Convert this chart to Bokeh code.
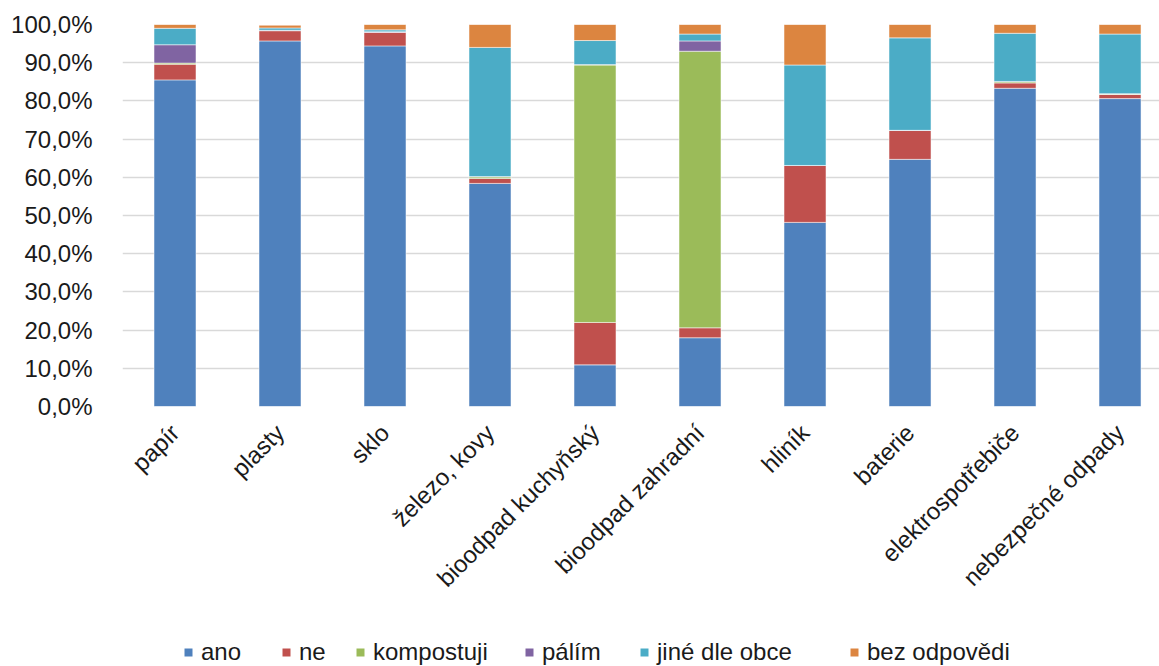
from bokeh.plotting import figure
from bokeh.models import ColumnDataSource, Legend, LegendItem, FixedTicker, Range1d
from bokeh.layouts import column
from bokeh.embed import file_html
from bokeh.resources import INLINE
import math

categories = ["papír", "plasty", "sklo", "železo, kovy", "bioodpad kuchyňský",
              "bioodpad zahradní", "hliník", "baterie", "elektrospotřebiče",
              "nebezpečné odpady"]
series = ["ano", "ne", "kompostuji", "pálím", "jiné dle obce", "bez odpovědi"]
ano        = [85.5, 95.7, 94.4, 58.4, 10.9, 18.0, 48.2, 64.7, 83.3, 80.6]
ne         = [4.1, 2.7, 3.6, 1.3, 11.1, 2.6, 14.9, 7.6, 1.4, 1.1]
kompostuji = [0.3, 0.0, 0.0, 0.4, 67.4, 72.4, 0.0, 0.0, 0.3, 0.1]
palim      = [4.8, 0.1, 0.1, 0.1, 0.1, 2.7, 0.0, 0.0, 0.1, 0.1]
jine       = [4.3, 0.6, 0.5, 33.8, 6.3, 1.8, 26.3, 24.2, 12.6, 15.6]
bez        = [1.0, 0.7, 1.4, 6.0, 4.2, 2.5, 10.6, 3.5, 2.3, 2.5]
y_ticks = [0, 10, 20, 30, 40, 50, 60, 70, 80, 90, 100]
y_tick_labels = ["0,0%", "10,0%", "20,0%", "30,0%", "40,0%", "50,0%",
                 "60,0%", "70,0%", "80,0%", "90,0%", "100,0%"]

colors = ["#4F81BD", "#C0504D", "#9BBB59", "#8064A2", "#4BACC6", "#DC8540"]
FONT = "Liberation Sans"

x = list(range(len(categories)))
source = ColumnDataSource(dict(x=x, ano=ano, ne=ne, kompostuji=kompostuji,
                               palim=palim, jine=jine, bez=bez))
keys = ["ano", "ne", "kompostuji", "palim", "jine", "bez"]

p = figure(width=1159, height=620, output_backend="svg", toolbar_location=None,
           x_range=Range1d(-0.5, 9.376), y_range=Range1d(0, 100),
           min_border_left=122, min_border_right=0, min_border_top=24,
           min_border_bottom=214)
p.outline_line_color = None

p.vbar_stack(keys, x="x", width=0.4, source=source, color=colors,
             line_color="white", line_alpha=0.5, line_width=1)

# axes
p.yaxis.ticker = FixedTicker(ticks=y_ticks)
p.yaxis.major_label_overrides = {t: l for t, l in zip(y_ticks, y_tick_labels)}
p.xaxis.ticker = FixedTicker(ticks=x)
p.xaxis.major_label_overrides = {i: c for i, c in zip(x, categories)}
p.xaxis.major_label_orientation = math.pi / 4
for ax in (p.xaxis, p.yaxis):
    ax.axis_line_color = None
    ax.major_tick_line_color = None
    ax.minor_tick_line_color = None
    ax.major_label_text_font = FONT
    ax.major_label_text_font_size = "24px"
    ax.major_label_text_color = "#1a1a1a"
p.yaxis.major_label_standoff = 24
p.xaxis.major_label_standoff = 16

p.xgrid.grid_line_color = None
p.ygrid.grid_line_color = "#d9d9d9"
p.ygrid.grid_line_width = 1.5

# legend strip (separate small figure below the chart; its frame aligns with
# the chart frame; proxy bars have zero width so only legend swatches show)
lf = figure(width=1159, height=46, output_backend="svg", toolbar_location=None,
            x_range=Range1d(-0.5, 9.376), y_range=Range1d(0, 100),
            min_border_left=122, min_border_right=0,
            min_border_top=0, min_border_bottom=0)
lf.outline_line_color = None
lf.axis.visible = False
lf.grid.visible = False
proxies = lf.vbar_stack(keys, x="x", width=0.0, source=source, color=colors,
                        line_color=None)
legend_x = [61, 159, 233, 402, 517, 727]
for name, r, lx in zip(series, proxies, legend_x):
    lg = Legend(items=[LegendItem(label=name, renderers=[r])],
                location=(lx, 0), orientation="horizontal",
                border_line_color=None, background_fill_alpha=0,
                padding=0, margin=0, glyph_width=10, glyph_height=10,
                label_standoff=8, label_text_font=FONT,
                label_text_font_size="24px", label_text_color="#1a1a1a",
                label_height=20)
    lf.add_layout(lg, "center")

layout = column(p, lf, spacing=0)
open("out.html", "w").write(file_html(layout, INLINE))
